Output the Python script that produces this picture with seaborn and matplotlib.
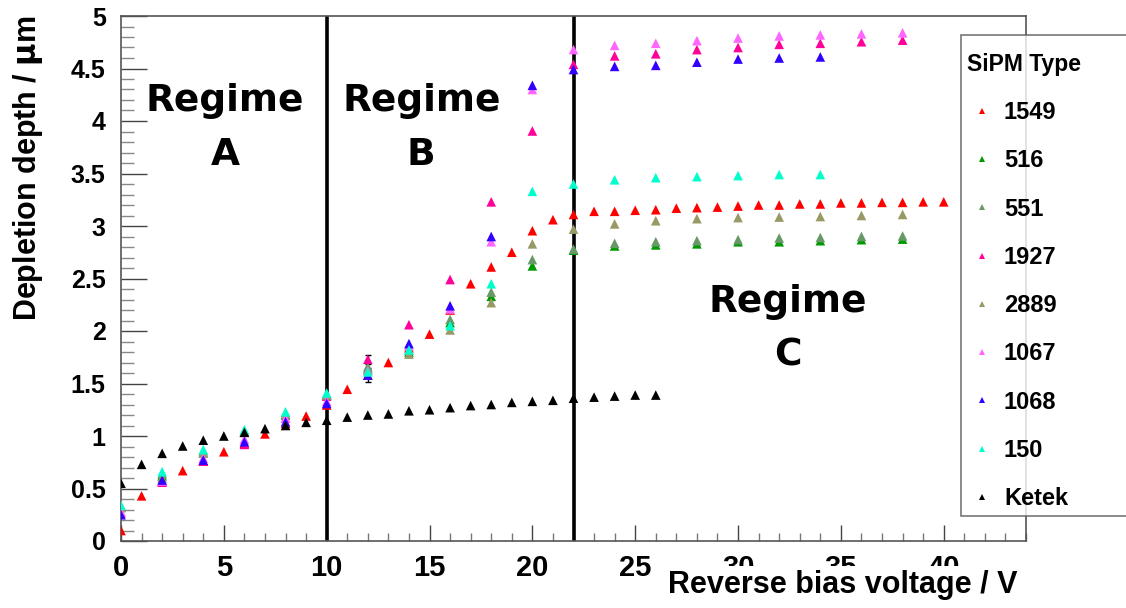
import numpy as np
import pandas as pd
import matplotlib
matplotlib.use("Agg")
import matplotlib.pyplot as plt
import seaborn as sns
from matplotlib.ticker import MultipleLocator
from matplotlib.offsetbox import DrawingArea, VPacker

# ---------------- data ----------------
series_names = ["1549", "516", "551", "1927", "2889", "1067", "1068", "150", "Ketek"]
series_colors = ["#ff0000", "#009900", "#669966", "#ff0099", "#999966",
                 "#ff66ff", "#3300ff", "#00ffcc", "#000000"]

v_1549 = list(range(0, 41))
d_1549 = [0.10, 0.43, 0.57, 0.67, 0.76, 0.85, 0.93, 1.02, 1.12, 1.19, 1.295,
          1.445, 1.58, 1.70, 1.84, 1.97, 2.20, 2.45, 2.61, 2.75, 2.955,
          3.06, 3.11, 3.14, 3.14, 3.15, 3.155, 3.17, 3.175, 3.18, 3.19,
          3.20, 3.20, 3.21, 3.21, 3.22, 3.22, 3.225, 3.225, 3.23, 3.23]

v_even38 = list(range(0, 39, 2))
v_even34 = list(range(0, 35, 2))

d_516 = [0.32, 0.62, 0.84, 1.04, 1.20, 1.39, 1.64, 1.80, 2.08, 2.33, 2.62,
         2.77, 2.81, 2.82, 2.83, 2.85, 2.85, 2.86, 2.87, 2.875]
d_551 = [0.33, 0.64, 0.86, 1.05, 1.22, 1.40, 1.66, 1.82, 2.11, 2.37, 2.68,
         2.78, 2.835, 2.85, 2.86, 2.87, 2.885, 2.89, 2.90, 2.905]
d_1927 = [0.27, 0.56, 0.76, 0.92, 1.17, 1.38, 1.73, 2.06, 2.49, 3.23, 3.905,
          4.54, 4.62, 4.64, 4.68, 4.70, 4.73, 4.74, 4.755, 4.77]
d_2889 = [0.32, 0.60, 0.84, 1.04, 1.21, 1.39, 1.63, 1.78, 2.01, 2.27, 2.83,
          2.97, 3.02, 3.05, 3.07, 3.08, 3.085, 3.09, 3.10, 3.11]
d_1067 = [0.28, 0.57, 0.79, 0.97, 1.17, 1.33, 1.62, 1.86, 2.21, 2.85, 4.30,
          4.68, 4.72, 4.74, 4.765, 4.79, 4.81, 4.82, 4.83, 4.84]
d_1068 = [0.25, 0.58, 0.77, 0.945, 1.135, 1.31, 1.58, 1.88, 2.24, 2.90, 4.34,
          4.49, 4.52, 4.53, 4.56, 4.59, 4.60, 4.61]
d_150 = [0.34, 0.66, 0.87, 1.06, 1.23, 1.41, 1.61, 1.82, 2.05, 2.45, 3.33,
         3.40, 3.44, 3.46, 3.47, 3.48, 3.49, 3.49]

v_ketek = list(range(0, 27))
d_ketek = [0.55, 0.73, 0.835, 0.905, 0.96, 1.00, 1.035, 1.07, 1.10, 1.13, 1.15,
           1.18, 1.20, 1.21, 1.24, 1.25, 1.27, 1.29, 1.30, 1.32, 1.33,
           1.34, 1.36, 1.37, 1.38, 1.39, 1.39]

# error bars visible at 12 V
err_v = [12, 12]
err_d = [1.73, 1.58]
err_e = [0.04, 0.07]

regime_boundaries = [10, 22]
regime_labels = ["Regime\nA", "Regime\nB", "Regime\nC"]
regime_pos = [(5.06, 3.93), (14.6, 3.93), (32.4, 2.024)]

x_ticks = [0, 5, 10, 15, 20, 25, 30, 35, 40]
y_ticks = [0, 0.5, 1, 1.5, 2, 2.5, 3, 3.5, 4, 4.5, 5]
y_tick_labels = ["0", "0.5", "1", "1.5", "2", "2.5", "3", "3.5", "4", "4.5", "5"]

# ---------------- build table ----------------
pairs = [(v_1549, d_1549), (v_even38, d_516), (v_even38, d_551), (v_even38, d_1927),
         (v_even38, d_2889), (v_even38, d_1067), (v_even34, d_1068),
         (v_even34, d_150), (v_ketek, d_ketek)]
frames = []
for name, (vv, dd) in zip(series_names, pairs):
    frames.append(pd.DataFrame({"V": vv, "D": dd, "SiPM Type": name}))
df = pd.concat(frames, ignore_index=True)
palette = dict(zip(series_names, series_colors))

# ---------------- plot ----------------
sns.set_style("white")
plt.rcParams["font.family"] = ["Liberation Sans", "DejaVu Sans"]
plt.rcParams["font.weight"] = "bold"
plt.rcParams["text.color"] = "black"
plt.rcParams["axes.labelcolor"] = "black"
plt.rcParams["xtick.color"] = "black"
plt.rcParams["ytick.color"] = "black"
plt.rcParams["xtick.bottom"] = True
plt.rcParams["ytick.left"] = True

fig = plt.figure(figsize=(11.26, 6.08), dpi=100)
ax = fig.add_axes([121 / 1126, 1 - 541 / 608, (1026 - 121) / 1126, (541 - 16) / 608])

for xv in regime_boundaries:
    ax.axvline(xv, color="black", lw=2.6, zorder=1)

ax.errorbar(err_v, err_d, yerr=err_e, fmt="none", ecolor="black", lw=1,
            capsize=2, zorder=2)

sns.scatterplot(data=df, x="V", y="D", hue="SiPM Type", palette=palette,
                hue_order=series_names, marker="^", s=48, linewidth=0,
                ax=ax, zorder=3)

ax.set_xlim(0, 44)
ax.set_ylim(0, 5)
ax.set_xticks(x_ticks)
ax.set_yticks(y_ticks)
ax.set_xticklabels([str(t) for t in x_ticks])
ax.set_yticklabels(y_tick_labels)
ax.xaxis.set_minor_locator(MultipleLocator(1))
ax.yaxis.set_minor_locator(MultipleLocator(0.1))

ax.tick_params(axis="x", which="both", bottom=True, top=False)
ax.tick_params(axis="y", which="both", left=True, right=False)
ax.tick_params(axis="x", which="major", direction="in", length=11.5, width=1,
               color="#444444", labelcolor="black", labelsize=21, pad=9)
ax.tick_params(axis="x", which="minor", direction="in", length=5.8, width=1,
               color="#777777")
ax.tick_params(axis="y", which="major", direction="in", length=18.5, width=1,
               color="#444444", labelcolor="black", labelsize=18, pad=11)
ax.tick_params(axis="y", which="minor", direction="in", length=9, width=1,
               color="#888888")
for lab in ax.get_xticklabels() + ax.get_yticklabels():
    lab.set_fontweight("bold")

for sp in ax.spines.values():
    sp.set_visible(True)
    sp.set_color("#555555")
    sp.set_linewidth(1.2)

ax.set_xlabel("Reverse bias voltage / V", fontsize=22, fontweight="bold",
              ha="right", va="top",
              bbox=dict(boxstyle="square,pad=0.12", facecolor="white",
                        edgecolor="none"))
ax.xaxis.set_label_coords(1 - 8 / 905, -0.0552)
ax.set_ylabel("Depletion depth / $\\mathbf{\\mu}$m", fontsize=22, fontweight="bold")
ax.yaxis.set_label_coords(-0.084, 0.7095)

for txt, (xx, yy) in zip(regime_labels, regime_pos):
    ax.text(xx, yy, txt, fontsize=27, fontweight="bold", ha="center",
            va="center", linespacing=1.64, color="black",
            family="DejaVu Sans")

sns.move_legend(ax, loc="upper left",
                bbox_to_anchor=(961 / 1126, 1 - 41 / 608, 175 / 1126, 0.01),
                bbox_transform=fig.transFigure, borderaxespad=0,
                mode="expand",
                title="SiPM Type", fontsize=17, title_fontsize=16.5,
                frameon=True, fancybox=False, edgecolor="#555555",
                labelspacing=1.07, handletextpad=0.3, handlelength=1.27,
                markerscale=0.7, borderpad=0.25)
leg = ax.get_legend()
leg.get_frame().set_linewidth(1.2)
leg.get_title().set_fontweight("bold")
leg.get_title().set_color("black")
leg._legend_box.align = "left"
for t in leg.get_texts():
    t.set_fontweight("bold")
    t.set_color("black")

# extra room above the legend title
try:
    title_box = leg._legend_title_box
    spacer = DrawingArea(1, 8.6)
    new_title = VPacker(children=[spacer, title_box], align="left", pad=0, sep=0)
    new_title.set_figure(fig)
    spacer.set_figure(fig)
    kids = leg._legend_box._children
    kids[0] = new_title
except Exception:
    pass

fig.savefig("out.png", dpi=100)
